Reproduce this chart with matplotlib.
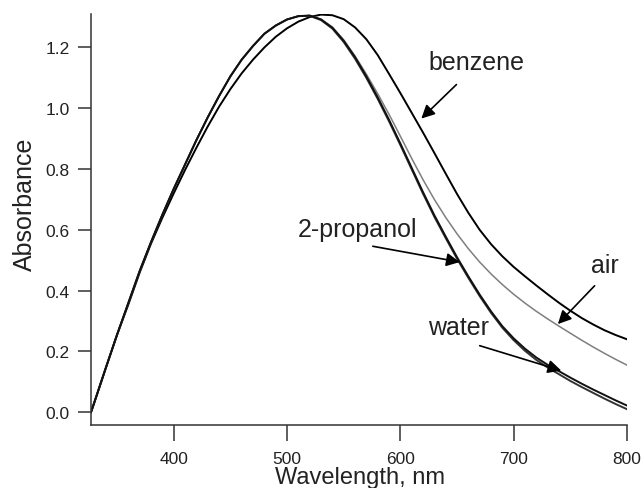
import numpy as np
import matplotlib
matplotlib.use("Agg")
import matplotlib.pyplot as plt

plt.rcParams['font.family'] = ['Liberation Sans', 'DejaVu Sans']

# Wavelength grid (nm)
wavelength = [327, 330, 340, 350, 360, 370, 380, 390, 400, 410, 420, 430, 440, 450,
              460, 470, 480, 490, 500, 510, 520, 530, 540, 550, 560, 570, 580, 590,
              600, 610, 620, 630, 640, 650, 660, 670, 680, 690, 700, 710, 720, 730,
              740, 750, 760, 770, 780, 790, 800]

# Absorbance
water = [0.00, 0.033, 0.145, 0.255, 0.36, 0.465, 0.56, 0.65, 0.735, 0.815, 0.895, 0.97,
         1.04, 1.105, 1.16, 1.205, 1.245, 1.272, 1.292, 1.303, 1.305, 1.292, 1.265,
         1.222, 1.168, 1.105, 1.036, 0.962, 0.884, 0.804, 0.724, 0.648, 0.578, 0.51,
         0.447, 0.387, 0.332, 0.283, 0.243, 0.209, 0.18, 0.156, 0.135, 0.114, 0.094,
         0.075, 0.057, 0.039, 0.022]

propanol = [0.00, 0.033, 0.145, 0.255, 0.36, 0.465, 0.56, 0.65, 0.735, 0.815, 0.895, 0.97,
            1.04, 1.105, 1.16, 1.205, 1.245, 1.272, 1.292, 1.303, 1.304, 1.29, 1.262,
            1.218, 1.163, 1.1, 1.031, 0.957, 0.879, 0.799, 0.719, 0.643, 0.573, 0.505,
            0.442, 0.382, 0.327, 0.278, 0.237, 0.202, 0.172, 0.147, 0.125, 0.103, 0.083,
            0.064, 0.045, 0.027, 0.01]

air = [0.00, 0.033, 0.145, 0.255, 0.36, 0.465, 0.56, 0.65, 0.735, 0.815, 0.895, 0.97,
       1.04, 1.105, 1.16, 1.205, 1.245, 1.272, 1.292, 1.303, 1.305, 1.293, 1.267,
       1.225, 1.172, 1.112, 1.048, 0.98, 0.908, 0.835, 0.765, 0.70, 0.641, 0.587,
       0.538, 0.494, 0.455, 0.42, 0.388, 0.359, 0.332, 0.307, 0.283, 0.26, 0.237,
       0.215, 0.194, 0.174, 0.155]

benzene = [0.00, 0.033, 0.145, 0.255, 0.355, 0.46, 0.555, 0.64, 0.72, 0.797, 0.87, 0.94,
           1.005, 1.063, 1.115, 1.16, 1.20, 1.235, 1.263, 1.285, 1.30, 1.308, 1.306,
           1.293, 1.266, 1.227, 1.175, 1.113, 1.05, 0.985, 0.92, 0.853, 0.785, 0.718,
           0.656, 0.60, 0.553, 0.513, 0.478, 0.447, 0.417, 0.388, 0.36, 0.334, 0.31,
           0.289, 0.27, 0.254, 0.24]

fig = plt.figure(figsize=(6.44, 4.89), dpi=100)
ax = fig.add_axes([0.1413, 0.1288, 0.8323, 0.8405])

ax.plot(wavelength, benzene, color='black', lw=1.4)
ax.plot(wavelength, air, color='#7f7f7f', lw=1.1)
ax.plot(wavelength, propanol, color='#333333', lw=1.4)
ax.plot(wavelength, water, color='#111111', lw=1.4)

ax.set_xlim(327, 800)
ax.set_ylim(-0.042, 1.31)
ax.set_xticks([400, 500, 600, 700, 800])
ax.set_yticks([0.0, 0.2, 0.4, 0.6, 0.8, 1.0, 1.2])
ax.yaxis.set_major_formatter(matplotlib.ticker.FormatStrFormatter('%.1f'))

for side in ['top', 'right']:
    ax.spines[side].set_visible(False)
for side in ['left', 'bottom']:
    ax.spines[side].set_color('#333333')
    ax.spines[side].set_linewidth(1.1)

ax.tick_params(axis='y', direction='out', length=9.5, width=1.1, color='#333333',
               labelsize=12.5, pad=6, labelcolor='#222222')
ax.tick_params(axis='x', direction='out', length=11.5, width=1.1, color='#333333',
               labelsize=12.5, pad=7.5, labelcolor='#222222')

ax.set_xlabel('Wavelength, nm', fontsize=17, color='#222222')
ax.xaxis.set_label_coords(0.5026, -0.141)
ax.xaxis.label.set_va('baseline')
ax.set_ylabel('Absorbance', fontsize=18, color='#222222')
ax.yaxis.set_label_coords(-0.101, 0.54)

arrow = dict(arrowstyle='-|>', color='black', lw=1.2, mutation_scale=20,
             shrinkA=0, shrinkB=0)
ax.annotate('', xy=(618.5, 0.966), xytext=(649.5, 1.078), arrowprops=arrow)
ax.text(667, 1.128, 'benzene', fontsize=18, ha='center', va='baseline', color='#222222')

ax.annotate('', xy=(652.4, 0.494), xytext=(575.7, 0.546), arrowprops=arrow)
ax.text(562.4, 0.579, '2-propanol', fontsize=18, ha='center', va='baseline', color='#222222')

ax.annotate('', xy=(739, 0.29), xytext=(771.4, 0.416), arrowprops=arrow)
ax.text(780.3, 0.46, 'air', fontsize=18, ha='center', va='baseline', color='#222222')

ax.annotate('', xy=(742, 0.137), xytext=(670, 0.219), arrowprops=arrow)
ax.text(651.6, 0.257, 'water', fontsize=18, ha='center', va='baseline', color='#222222')

fig.savefig('out.png', dpi=100)
